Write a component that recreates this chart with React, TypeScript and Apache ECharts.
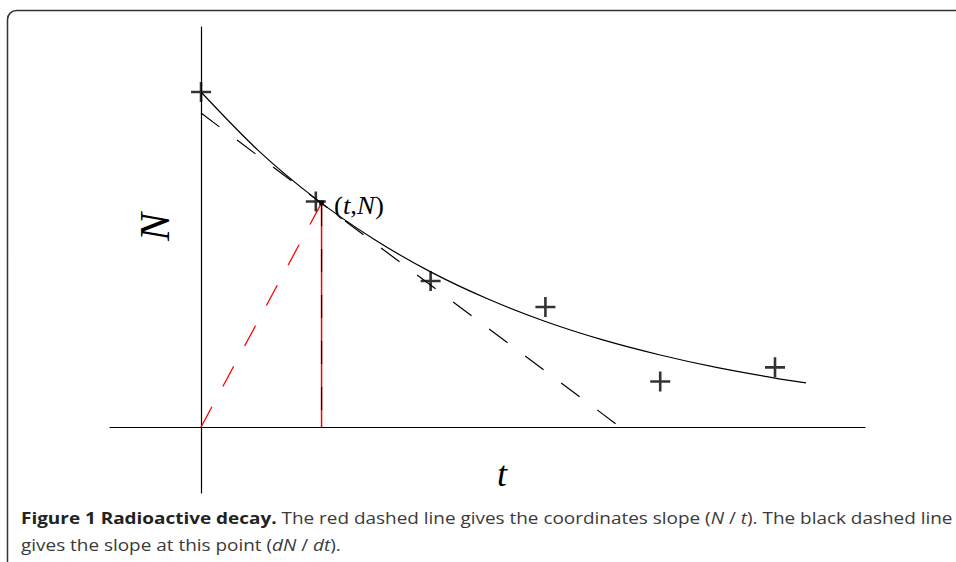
import React, { useEffect, useRef } from "react";
import * as echarts from "echarts";

// Smooth decay curve
const curveT = [0, 0.5, 1, 1.5, 2, 2.5, 3, 3.5, 4, 4.5, 5, 5.27];
const curveN = [100, 82.5, 68.1, 56.2, 46.3, 38.2, 31.5, 26.0, 21.5, 17.7, 14.6, 13.2];

// Measured samples (crosses)
const sampleT = [0, 1, 2, 3, 4, 5];
const sampleN = [100, 67.3, 43.6, 35.8, 13.6, 17.8];

// The point (t, N)
const pointT = 1.05;
const pointN = 66.9;

// Tangent line end points
const tangentT = [0, 3.65];
const tangentN = [93.7, 0];

// Axis ranges
const tRange = [-0.793, 5.784];
const nRange = [-19.7, 119.4];

const CROSS = "path://M0,8.7L20,8.7L20,11.3L0,11.3Z M8.7,0L11.3,0L11.3,20L8.7,20Z";

export default function App() {
  const ref = useRef<HTMLDivElement>(null);
  useEffect(() => {
    if (!ref.current) return;
    const chart = echarts.init(ref.current, undefined, { renderer: "svg" });
    const zip = (a: number[], b: number[]) => a.map((v, i) => [v, b[i]]);
    chart.setOption({
      animation: false,
      backgroundColor: "#ffffff",
      grid: { left: 110, right: 91, top: 27, bottom: 69 },
      xAxis: {
        type: "value",
        min: tRange[0],
        max: tRange[1],
        axisLine: { show: true, onZero: true, lineStyle: { color: "#000", width: 1.2 } },
        axisTick: { show: false },
        axisLabel: { show: false },
        splitLine: { show: false },
      },
      yAxis: {
        type: "value",
        min: nRange[0],
        max: nRange[1],
        axisLine: { show: true, onZero: true, lineStyle: { color: "#000", width: 1.2 } },
        axisTick: { show: false },
        axisLabel: { show: false },
        splitLine: { show: false },
      },
      series: [
        {
          type: "line",
          data: zip(curveT, curveN),
          smooth: 0.3,
          symbol: "none",
          lineStyle: { color: "#000", width: 1.2 },
          z: 3,
        },
        {
          type: "line",
          data: zip(tangentT, tangentN),
          symbol: "none",
          lineStyle: { color: "#000", width: 1.2, type: [23, 22] },
          z: 3,
        },
        {
          type: "line",
          data: [[0, 0], [pointT, pointN]],
          symbol: "none",
          lineStyle: { color: "#ff0000", width: 1.3, type: [23, 23] },
          z: 3,
        },
        {
          type: "line",
          data: [[pointT, 0], [pointT, pointN]],
          symbol: "none",
          lineStyle: { color: "#ff0000", width: 1.5 },
          z: 3,
        },
        {
          type: "line",
          data: [[pointT, pointN], [pointT, 0]],
          symbol: "none",
          lineStyle: { color: "#000", width: 1.2, type: [23, 23] },
          z: 4,
        },
        {
          type: "scatter",
          data: zip(sampleT, sampleN),
          symbol: CROSS,
          symbolSize: 20,
          itemStyle: { color: "#000" },
          z: 5,
        },
        {
          type: "scatter",
          data: [[pointT, pointN]],
          symbol: "rect",
          symbolSize: 5,
          itemStyle: { color: "#000" },
          z: 5,
        },
      ],
      graphic: [
        {
          type: "rect",
          shape: { x: 7.5, y: 10.5, width: 1000, height: 600, r: 9 },
          style: { fill: "none", stroke: "#333", lineWidth: 1.5 },
          silent: true,
        },
        {
          type: "text",
          x: 155,
          y: 227,
          rotation: Math.PI / 2,
          style: {
            text: "N",
            font: 'italic 42px "Liberation Serif"',
            fill: "#000",
            align: "center",
            verticalAlign: "middle",
          },
        },
        {
          type: "text",
          x: 502,
          y: 474,
          style: {
            text: "t",
            font: 'italic 36px "Liberation Serif"',
            fill: "#000",
            align: "center",
            verticalAlign: "middle",
          },
        },
        {
          type: "text",
          x: 334,
          y: 205,
          scaleX: 1.03,
          style: {
            text: "({i|t},{i|N})",
            font: '26px "Liberation Serif"',
            fill: "#000",
            verticalAlign: "middle",
            rich: {
              i: { fontFamily: "Liberation Serif", fontStyle: "italic", fontSize: 26, fill: "#000" },
            },
          },
        },
        {
          type: "text",
          x: 21,
          y: 504,
          scaleX: 1.147,
          style: {
            text:
              "{b|Figure 1 Radioactive decay.} The red dashed line gives the coordinates slope ({i|N} / {i|t}). The black dashed line\ngives the slope at this point ({i|dN} / {i|dt}).",
            font: '16.5px "Open Sans"',
            fill: "#3a3a3a",
            lineHeight: 27,
            rich: {
              b: { fontFamily: "Open Sans", fontWeight: "bold", fontSize: 16.5, fill: "#222", lineHeight: 27 },
              i: { fontFamily: "Open Sans", fontStyle: "italic", fontSize: 16.5, fill: "#3a3a3a", lineHeight: 27 },
            },
          },
        },
      ],
    });
    return () => chart.dispose();
  }, []);
  return (
    <div
      ref={ref}
      style={{ position: "fixed", left: 0, top: 0, width: 956, height: 562, background: "#fff" }}
    />
  );
}
